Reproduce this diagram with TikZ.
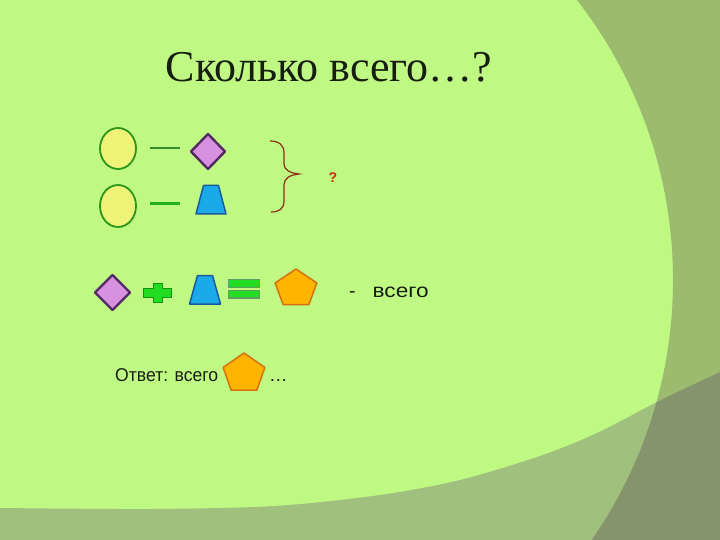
\documentclass[tikz,border=0pt]{standalone}
\usepackage{fontspec}
\usepackage{graphicx}
\setmainfont{Liberation Serif}
\newfontfamily\arialfont{Liberation Sans}
\definecolor{bglight}{RGB}{192,248,132}
\definecolor{bgright}{RGB}{155,187,111}
\definecolor{bgbottom}{RGB}{160,192,126}
\definecolor{bgdark}{RGB}{134,148,110}
\definecolor{ovalfill}{RGB}{238,242,118}
\definecolor{ovaldraw}{RGB}{42,150,26}
\definecolor{diafill}{RGB}{216,144,224}
\definecolor{diadraw}{RGB}{84,42,100}
\definecolor{trapfill}{RGB}{26,170,234}
\definecolor{trapdraw}{RGB}{26,90,156}
\definecolor{pentfill}{RGB}{255,180,0}
\definecolor{pentdraw}{RGB}{214,112,16}
\definecolor{opgreen}{RGB}{34,220,34}
\definecolor{opedge}{RGB}{20,150,20}
\definecolor{eqedge}{RGB}{94,158,94}
\definecolor{bracecol}{RGB}{140,44,20}
\definecolor{qcol}{RGB}{204,40,10}
\definecolor{txt}{RGB}{22,30,16}
\begin{document}
\begin{tikzpicture}[x=1pt,y=-1pt,
  oval/.style={fill=ovalfill,draw=ovaldraw,line width=1.8pt},
  dia/.style={fill=diafill,draw=diadraw,line width=2.4pt,line join=round},
  trap/.style={fill=trapfill,draw=trapdraw,line width=1.5pt,line join=round},
  pent/.style={fill=pentfill,draw=pentdraw,line width=1.5pt,line join=round},
  opsign/.style={fill=opgreen,draw=opedge,line width=1pt},
  eqbar/.style={fill=opgreen,draw=eqedge,line width=1.5pt},
  sans/.style={font=\arialfont,text=txt,inner sep=0pt}]
\useasboundingbox (0,0) rectangle (720,540);
% background
\fill[bglight] (0,0) rectangle (720,540);
\begin{scope}
  \clip (0,0) rectangle (720,540);
  \fill[bgbottom] (0,540) -- plot[smooth] coordinates {(0,508) (150,509) (275,506) (380,495) (460,480) (540,456) (597,433) (661,400) (720,372)} -- (720,540) -- cycle;
  \fill[bgright,even odd rule] (-10,-10) rectangle (730,550) (217,280) circle [radius=456];
  \clip (0,540) -- plot[smooth] coordinates {(0,508) (150,509) (275,506) (380,495) (460,480) (540,456) (597,433) (661,400) (720,372)} -- (720,540) -- cycle;
  \fill[bgdark,even odd rule] (-10,-10) rectangle (730,550) (217,280) circle [radius=456];
\end{scope}
% title
\node[anchor=base,font=\fontsize{44}{50}\selectfont,text=txt,inner sep=0pt] (title) at (329,82) {Сколько всего…?};
% first rows
\draw[oval] (118,148.5) ellipse [x radius=18, y radius=20.5];
\draw[oval] (118,206) ellipse [x radius=18, y radius=21];
\draw[line width=2pt,draw={rgb,255:red,58;green,140;blue,42}] (150,148) -- (180,148);
\draw[line width=3pt,draw={rgb,255:red,32;green,176;blue,32}] (150,204) -- (180,204);
\draw[dia] (208,134) -- (225,151.5) -- (208,169) -- (191,151.5) -- cycle;
\draw[trap] (203.5,185.5) -- (218.5,185.5) -- (226,214) -- (196,214) -- cycle;
% brace
\draw[bracecol,line width=1.2pt] (270,141) .. controls (279,141) and (284,145) .. (284,153) -- (284,164)
  .. controls (284,170) and (290,173) .. (299,174)
  .. controls (290,175) and (284,178) .. (284,185) -- (284,201)
  .. controls (284,209) and (279,212) .. (271,212);
\node[anchor=base,font=\arialfont\bfseries\fontsize{14}{16}\selectfont,text=qcol,inner sep=0pt] (q) at (333,183) {?};
% equation row
\draw[dia] (112.5,275) -- (130,292.5) -- (112.5,310) -- (95,292.5) -- cycle;
\draw[opsign] (153,283) -- (162,283) -- (162,288) -- (171,288) -- (171,297) -- (162,297) -- (162,302) -- (153,302) -- (153,297) -- (143,297) -- (143,288) -- (153,288) -- cycle;
\draw[trap] (197.5,275.5) -- (212.5,275.5) -- (220.5,304) -- (189.5,304) -- cycle;
\draw[eqbar] (228.5,279.5) rectangle (259.5,287.5);
\draw[eqbar] (228.5,290.5) rectangle (259.5,298);
\draw[pent] (296,269) -- (316.9,283) -- (308.9,304.5) -- (283.1,304.5) -- (275.1,283) -- cycle;
\node[sans,anchor=base west,font=\arialfont\fontsize{19.5}{23}\selectfont] (total) at (349,297) {-\hspace{17pt}\scalebox{1.16}[1]{всего}};
% answer row
\node[sans,anchor=base west,font=\arialfont\fontsize{18.5}{22}\selectfont] (answer) at (115,381) {\scalebox{0.95}[1]{Ответ: всего}};
\draw[pent] (244,353) -- (264.9,367.5) -- (256.9,390) -- (231.1,390) -- (223.1,367.5) -- cycle;
\node[sans,anchor=base west,font=\arialfont\fontsize{18.5}{22}\selectfont] (dots) at (269,381) {…};
\end{tikzpicture}
\end{document}
